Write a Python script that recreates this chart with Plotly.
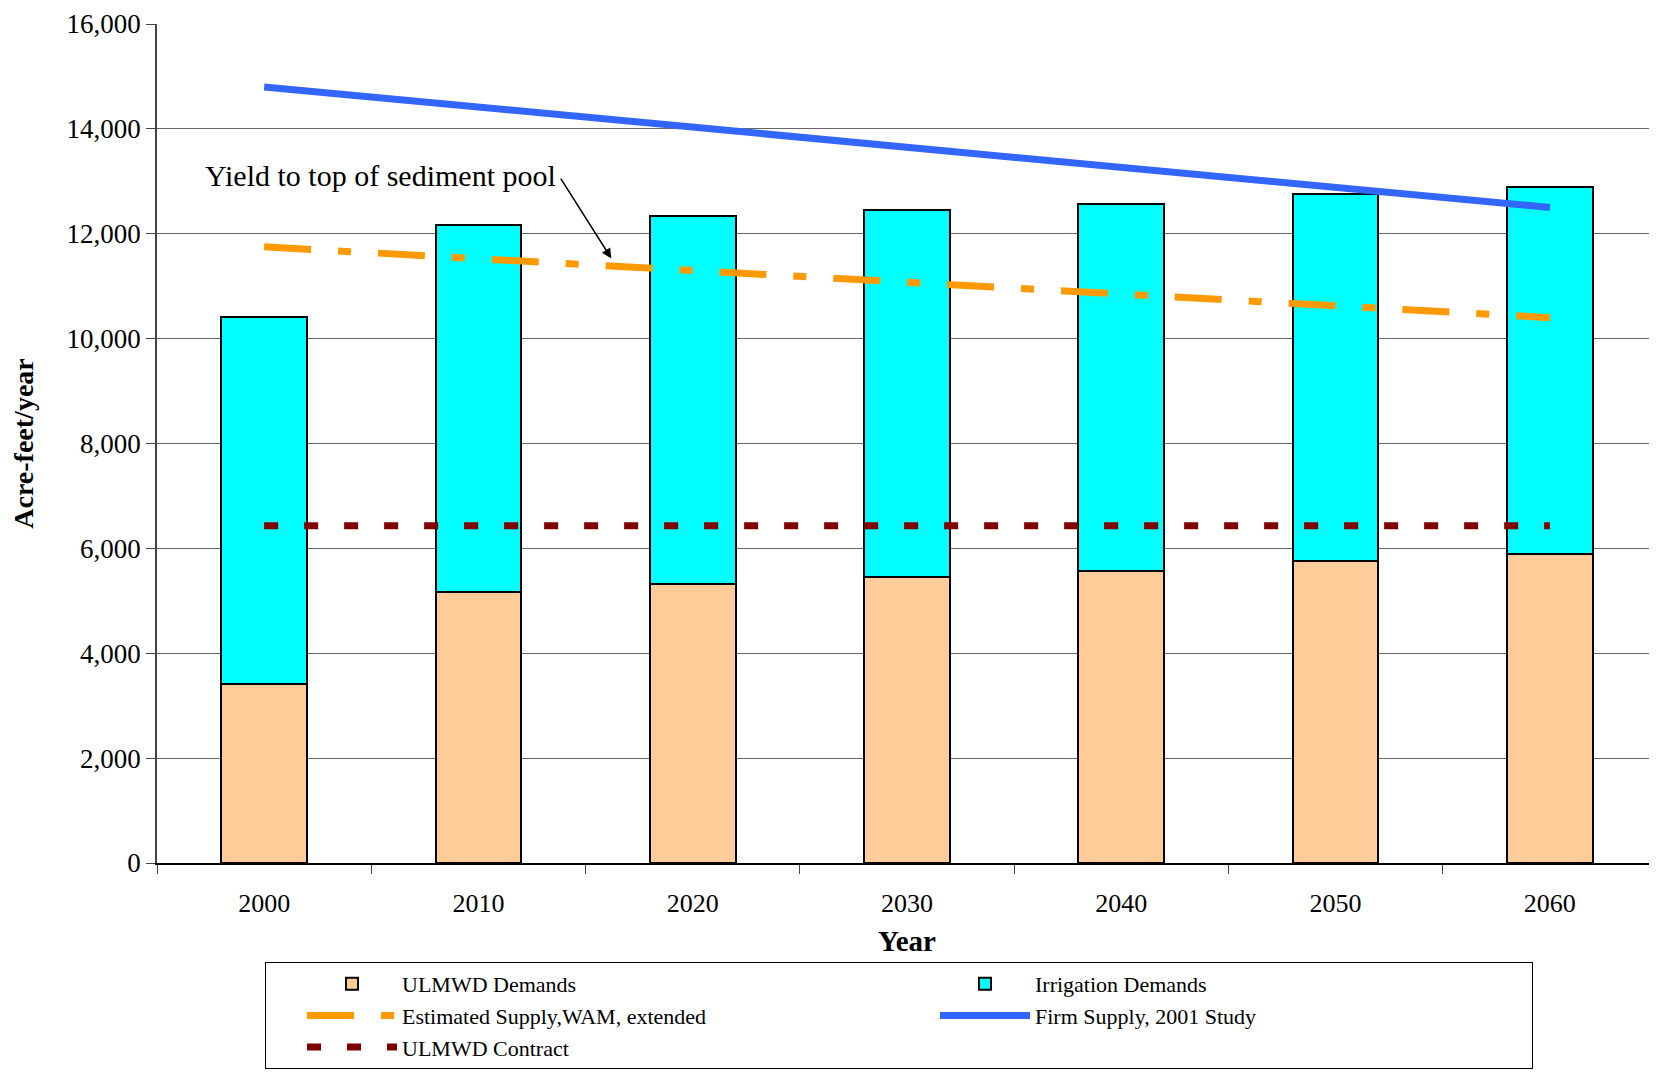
import plotly.graph_objects as go

years = ["2000", "2010", "2020", "2030", "2040", "2050", "2060"]
ulmwd_demands = [3420, 5170, 5330, 5450, 5570, 5760, 5890]
irrigation_demands = [7000, 7000, 7000, 7000, 7000, 6990, 7000]
estimated_supply = [11750, 11520, 11300, 11080, 10850, 10620, 10400]
firm_supply = [14800, 14420, 14030, 13650, 13270, 12880, 12500]
ulmwd_contract = [6430, 6430, 6430, 6430, 6430, 6430, 6430]
y_ticks = [0, 2000, 4000, 6000, 8000, 10000, 12000, 14000, 16000]
y_tick_text = ["0", "2,000", "4,000", "6,000", "8,000", "10,000", "12,000", "14,000", "16,000"]

FONT = "Liberation Serif, Times New Roman, serif"

fig = go.Figure()
fig.add_trace(go.Bar(
    x=years, y=ulmwd_demands, name="ULMWD Demands", width=0.4,
    marker=dict(color="#FFCC99", line=dict(color="black", width=2)),
))
fig.add_trace(go.Bar(
    x=years, y=irrigation_demands, name="Irrigation Demands", width=0.4,
    marker=dict(color="#00FFFF", line=dict(color="black", width=2)),
))
fig.add_trace(go.Scatter(
    x=years, y=estimated_supply, name="Estimated Supply,WAM, extended", mode="lines",
    line=dict(color="#FF9900", width=7, dash="47px,27px,13px,27px"),
))
fig.add_trace(go.Scatter(
    x=years, y=firm_supply, name="Firm Supply, 2001 Study", mode="lines",
    line=dict(color="#3366FF", width=7),
))
fig.add_trace(go.Scatter(
    x=years, y=ulmwd_contract, name="ULMWD Contract", mode="lines",
    line=dict(color="#800000", width=7, dash="14px,26px"),
))

# Annotation
fig.add_annotation(
    x=1.62, y=11530, ax=1.38, ay=13080, xref="x", yref="y", axref="x", ayref="y",
    text="", showarrow=True, arrowhead=2, arrowsize=1.3, arrowwidth=1.5, arrowcolor="black",
)
fig.add_annotation(
    x=1.37, y=13110, xref="x", yref="y", text="Yield to top of sediment pool",
    showarrow=False, xanchor="right", yanchor="middle",
    font=dict(family=FONT, size=30, color="black"),
)

fig.update_layout(
    width=1649, height=1066,
    margin=dict(l=149, r=0, t=16, b=211, autoexpand=False),
    paper_bgcolor="white", plot_bgcolor="white",
    barmode="stack",
    font=dict(family=FONT, size=26, color="black"),
    showlegend=True,
    legend=dict(
        orientation="h", x=0.072, xanchor="left", y=-0.118, yanchor="top",
        traceorder="normal",
        entrywidth=492, entrywidthmode="pixels",
        indentation=36,
        bordercolor="black", borderwidth=1, bgcolor="white",
        font=dict(family=FONT, size=22, color="black"),
        itemwidth=90, tracegroupgap=0,
    ),
    xaxis=dict(
        type="category", range=[-0.5, 6.5],
        showline=True, linecolor="black", linewidth=1.5,
        ticks="outside", tickson="boundaries", ticklen=9, tickcolor="#444",
        ticklabelstandoff=16,
        showgrid=False,
        tickfont=dict(family=FONT, size=26),
        title=dict(text="<b>Year</b>", font=dict(family=FONT, size=29), standoff=14),
    ),
    yaxis=dict(
        range=[0, 16000],
        tickvals=y_ticks, ticktext=y_tick_text,
        ticklabeloverflow="allow",
        showline=True, linecolor="#444", linewidth=1.5,
        ticks="outside", ticklen=9, tickcolor="#444",
        showgrid=True, gridcolor="#666", gridwidth=1,
        zeroline=False,
        tickfont=dict(family=FONT, size=27),
        title=dict(text="<b>Acre-feet/year</b>", font=dict(family=FONT, size=28), standoff=26),
    ),
)

fig.write_html("out.html")
